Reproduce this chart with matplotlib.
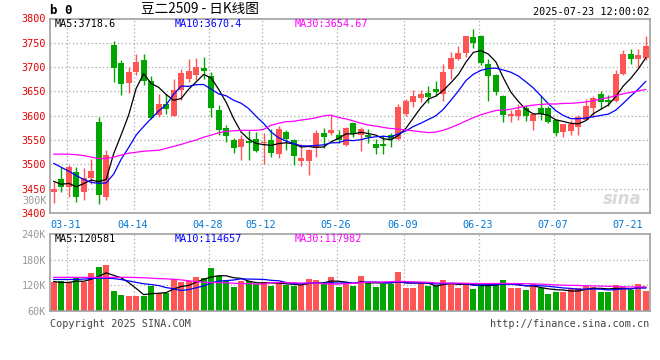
import matplotlib
matplotlib.use("Agg")
import matplotlib.pyplot as plt
import numpy as np
import pandas as pd

# ---------------- data ----------------
dates = ['03-27', '03-28', '03-31', '04-01', '04-02', '04-03', '04-07', '04-08', '04-09', '04-10',
         '04-11', '04-14', '04-15', '04-16', '04-17', '04-18', '04-21', '04-22', '04-23', '04-24',
         '04-25', '04-28', '04-29', '04-30', '05-06', '05-07', '05-08', '05-09', '05-12', '05-13',
         '05-14', '05-15', '05-16', '05-19', '05-20', '05-21', '05-22', '05-23', '05-26', '05-27',
         '05-28', '05-29', '05-30', '06-03', '06-04', '06-05', '06-06', '06-09', '06-10', '06-11',
         '06-12', '06-13', '06-16', '06-17', '06-18', '06-19', '06-20', '06-23', '06-24', '06-25',
         '06-26', '06-27', '06-30', '07-01', '07-02', '07-03', '07-04', '07-07', '07-08', '07-09',
         '07-10', '07-11', '07-14', '07-15', '07-16', '07-17', '07-18', '07-21', '07-22', '07-23']

opens = [3443.7, 3469.7, 3454, 3484.7, 3443.7, 3472.5, 3587.3, 3433.4, 3744.6, 3709,
         3667.3, 3691, 3713.8, 3670.8, 3601, 3625, 3599, 3652, 3676, 3683,
         3698, 3681, 3612.7, 3575.8, 3549.7, 3536, 3548.3, 3551.8, 3543, 3549.7,
         3521, 3566.8, 3549.7, 3507.3, 3507.3, 3534.7, 3563.5, 3564.5, 3560, 3539.5,
         3585.3, 3560, 3560, 3541, 3541.5, 3560, 3553, 3604.5, 3628, 3636.5,
         3646.8, 3654.4, 3644, 3696.8, 3716, 3729, 3761.7, 3763, 3707, 3684.5,
         3640, 3599.6, 3599, 3616.8, 3589.4, 3616.8, 3616.8, 3590.8, 3566.8, 3568.8,
         3577, 3592.2, 3616.8, 3644, 3633, 3630.4, 3686.6, 3727.6, 3717.3, 3718.6]

highs = [3464, 3495, 3498, 3495, 3491.7, 3512, 3597.5, 3529, 3752.8, 3715,
         3700, 3726, 3727.6, 3681, 3645.5, 3645, 3676, 3696.8, 3717, 3719,
         3720.6, 3690, 3621.5, 3580.5, 3555, 3560, 3570, 3566.8, 3564.8, 3573.7,
         3578.5, 3570, 3551.8, 3541.5, 3532.5, 3571.7, 3575.8, 3601, 3571.7, 3577,
         3587.3, 3577, 3573.7, 3553, 3560, 3563.5, 3625, 3635, 3652, 3652,
         3660.5, 3670.8, 3707, 3731, 3742.6, 3765, 3777.4, 3766.5, 3717, 3686.6,
         3642, 3611, 3625, 3621.5, 3604.5, 3640, 3619.5, 3594.3, 3584, 3590.8,
         3601, 3635, 3640, 3650, 3642, 3693.3, 3735.8, 3737.8, 3737.8, 3765]

lows = [3421, 3443.7, 3433, 3423, 3426.7, 3460, 3418.5, 3426.7, 3669, 3642,
        3647, 3684.5, 3662.6, 3594, 3597.5, 3604.5, 3599, 3631.8, 3669, 3672.8,
        3676, 3597.5, 3560, 3546, 3523.7, 3508.7, 3508.7, 3525.7, 3500.5, 3515.5,
        3512.2, 3529, 3498.5, 3497, 3478, 3515.5, 3534.7, 3560, 3544, 3537.4,
        3555.3, 3527.8, 3544, 3521, 3521, 3536, 3551, 3599, 3618, 3628,
        3626, 3640, 3630.4, 3676, 3714, 3720.6, 3739, 3705, 3630, 3642,
        3587.3, 3587, 3590.8, 3589.4, 3570, 3590.8, 3585, 3558, 3555.3, 3560,
        3560, 3590.8, 3597.5, 3614.8, 3620, 3628, 3683, 3705.6, 3699, 3715]

closes = [3449.2, 3454, 3495, 3433.4, 3471, 3486, 3436.9, 3519, 3698, 3664.6,
          3689, 3711, 3670.8, 3596.3, 3625, 3614.8, 3652, 3688.6, 3692, 3700,
          3692, 3616.8, 3571.7, 3558.6, 3532.7, 3553, 3544, 3527.8, 3546.3, 3523.7,
          3572.3, 3551.8, 3517.5, 3513.5, 3529, 3563.5, 3555.3, 3570, 3549.7, 3575.8,
          3562, 3572.3, 3556.6, 3534, 3538, 3551.8, 3618, 3630.4, 3640.6, 3644,
          3638.6, 3649, 3689.8, 3718.6, 3729, 3765, 3749.4, 3708.4, 3681.6, 3649,
          3601, 3603, 3612.7, 3599, 3603, 3603, 3587.3, 3565.5, 3582.6, 3584,
          3597.5, 3619.5, 3637.3, 3628, 3628, 3685, 3727.6, 3716, 3724, 3742.6]

# volume in thousands (K)
volumes_k = [127, 130, 127, 138, 127, 150, 164, 169, 108, 98,
             95, 95, 96, 119, 103, 103, 136, 127, 131, 140,
             138, 162, 143, 130, 117, 131, 130, 124, 127, 118,
             128, 122, 118, 120, 135, 133, 124, 140, 117, 125,
             119, 142, 127, 117, 123, 123, 152, 115, 115, 125,
             119, 119, 133, 126, 115, 123, 112, 123, 125, 123,
             133, 115, 115, 109, 123, 113, 100, 105, 105, 112,
             113, 119, 117, 105, 105, 121, 117, 109, 123, 108]

# moving-average values before enough history is visible
price_ma5_head = [3465, 3459, 3461, 3454]
price_ma10_head = [3502, 3494, 3486, 3477, 3469, 3463, 3461, 3462, 3480]
price_ma30_head = [3521, 3521, 3521, 3520, 3518, 3515, 3512, 3512, 3515, 3519,
                   3523, 3525, 3527, 3528, 3529, 3533, 3537, 3541, 3546, 3550,
                   3556, 3560, 3565, 3568, 3569, 3570, 3570, 3570, 3572]
vol_ma5_head = [129, 127, 127, 130]
vol_ma10_head = [134, 134, 134, 134, 135, 136, 137, 137, 136]
vol_ma30_head = [139, 139, 139, 139, 139, 139, 139, 139, 139, 139,
                 139, 138.5, 138, 137, 136, 135.5, 134.5, 133, 131, 129,
                 127.5, 127, 126.5, 126, 125, 124.5, 124, 123.5, 123]

tick_dates = ['03-31', '04-14', '04-28', '05-12', '05-26', '06-09', '06-23', '07-07', '07-21']
grid_dates = ['03-31', '04-14', '04-28', '05-12', '05-26', '06-09', '06-23', '07-07']
price_ticks = [3400, 3450, 3500, 3550, 3600, 3650, 3700, 3750, 3800]
vol_ticks = [60, 120, 180, 240]
vol_tick_labels = ['60K', '120K', '180K', '240K']

title_text = '豆二2509 - 日K线图'
time_text = '2025-07-23 12:00:02'
price_ma_labels = ['MA5:3718.6', 'MA10:3670.4', 'MA30:3654.67']
vol_ma_labels = ['MA5:120581', 'MA10:114657', 'MA30:117982']


def moving_average(values, n, head):
    s = pd.Series(values, dtype=float).rolling(n).mean().to_numpy()
    s[:len(head)] = head
    return s


# ---------------- styling ----------------
plt.rcParams['font.family'] = ['DejaVu Sans Mono', 'Noto Sans CJK SC']
UP = '#ff5555'
DOWN = '#00a500'
GRID = '#aaaaaa'
SPINE = '#a0a0a0'
MA_COLORS = ['#000000', '#0000ff', '#ff00ff']

W, H = 660, 360
fig = plt.figure(figsize=(W / 100, H / 100), dpi=100)
fig.patch.set_facecolor('white')


def fx(x):
    return x / W


def fy(y):
    return 1 - y / H


L, R = 50, 649.5
P_TOP, P_BOT = 18.5, 213
V_TOP, V_BOT = 234.3, 311
ax = fig.add_axes([fx(L), fy(P_BOT), (R - L) / W, (P_BOT - P_TOP) / H])
axv = fig.add_axes([fx(L), fy(V_BOT), (R - L) / W, (V_BOT - V_TOP) / H])

n = len(dates)
x = np.arange(n)
o = np.array(opens)
c = np.array(closes)
h = np.array(highs)
lo = np.array(lows)
up = c >= o
colors = np.where(up, UP, DOWN)

for a in (ax, axv):
    a.set_xlim(-0.5, n - 0.5)
    for s in a.spines.values():
        s.set_color(SPINE)
        s.set_linewidth(1.2)
    for d in grid_dates:
        a.axvline(dates.index(d) - 0.25, color=GRID, lw=0.9, ls=(0, (1, 2)), zorder=0)

# price panel
ax.set_ylim(3400, 3800)
for yv in price_ticks[1:-1]:
    ax.axhline(yv, color=GRID, lw=0.9, ls=(0, (1, 2)), zorder=0)
ax.vlines(x, lo, h, colors=colors, lw=1.0, zorder=2)
body = np.maximum(np.abs(c - o), 0.8)
ax.bar(x, body, bottom=np.minimum(o, c), width=0.8, color=colors, lw=0, zorder=3)

for (nn, head), col in zip([(5, price_ma5_head), (10, price_ma10_head), (30, price_ma30_head)], MA_COLORS):
    ax.plot(x, moving_average(closes, nn, head), color=col, lw=0.9, zorder=4)

ax.set_yticks(price_ticks)
ax.set_yticklabels([str(t) for t in price_ticks])
ax.tick_params(axis='y', length=0, pad=3, labelcolor='#e60000', labelsize=7.3)
ax.set_xticks([dates.index(d) - 0.4 for d in tick_dates])
ax.set_xticklabels(tick_dates)
ax.tick_params(axis='x', length=0, pad=5, labelcolor='#0078d7', labelsize=7.3)

# volume panel
axv.set_ylim(vol_ticks[0], vol_ticks[-1])
for yv in vol_ticks[1:-1]:
    axv.axhline(yv, color=GRID, lw=0.9, ls=(0, (1, 2)), zorder=0)
axv.bar(x, volumes_k, width=0.8, color=colors, lw=0, zorder=2)
for (nn, head), col in zip([(5, vol_ma5_head), (10, vol_ma10_head), (30, vol_ma30_head)], MA_COLORS):
    axv.plot(x, moving_average(volumes_k, nn, head), color=col, lw=0.9, zorder=4)
axv.set_yticks(vol_ticks)
axv.set_yticklabels(vol_tick_labels)
axv.tick_params(axis='y', length=0, pad=3, labelcolor='#999999', labelsize=7.3)
axv.set_xticks([])

# ---------------- texts ----------------
fig.text(fx(50), fy(10), 'b 0', fontsize=9, fontweight='bold', va='center', ha='left')
fig.text(fx(141), fy(8.5), title_text, fontsize=9.8, va='center', ha='left',
         family=['Noto Sans CJK SC', 'DejaVu Sans'])
fig.text(fx(649), fy(12), time_text, fontsize=7.3, va='center', ha='right')
for txt, col, xp in zip(price_ma_labels, MA_COLORS, [55, 175, 295]):
    fig.text(fx(xp), fy(24), txt, fontsize=7.3, color=col, va='center', ha='left')
for txt, col, xp in zip(vol_ma_labels, MA_COLORS, [55, 175, 295]):
    fig.text(fx(xp), fy(239), txt, fontsize=7.3, color=col, va='center', ha='left')
fig.text(fx(47), fy(201), '300K', fontsize=7.3, color='#999999', va='center', ha='right')
fig.text(fx(50), fy(324), 'Copyright 2025 SINA.COM', fontsize=7.3, color='#444444', va='center', ha='left')
fig.text(fx(649), fy(324), 'http://finance.sina.com.cn', fontsize=7.3, color='#444444', va='center', ha='right')
fig.text(fx(622), fy(199), 'sina', fontsize=12, color='#d8d8d8', fontweight='bold', style='italic',
         family='DejaVu Sans', va='center', ha='center')

fig.savefig('out.png', dpi=100, facecolor='white')
